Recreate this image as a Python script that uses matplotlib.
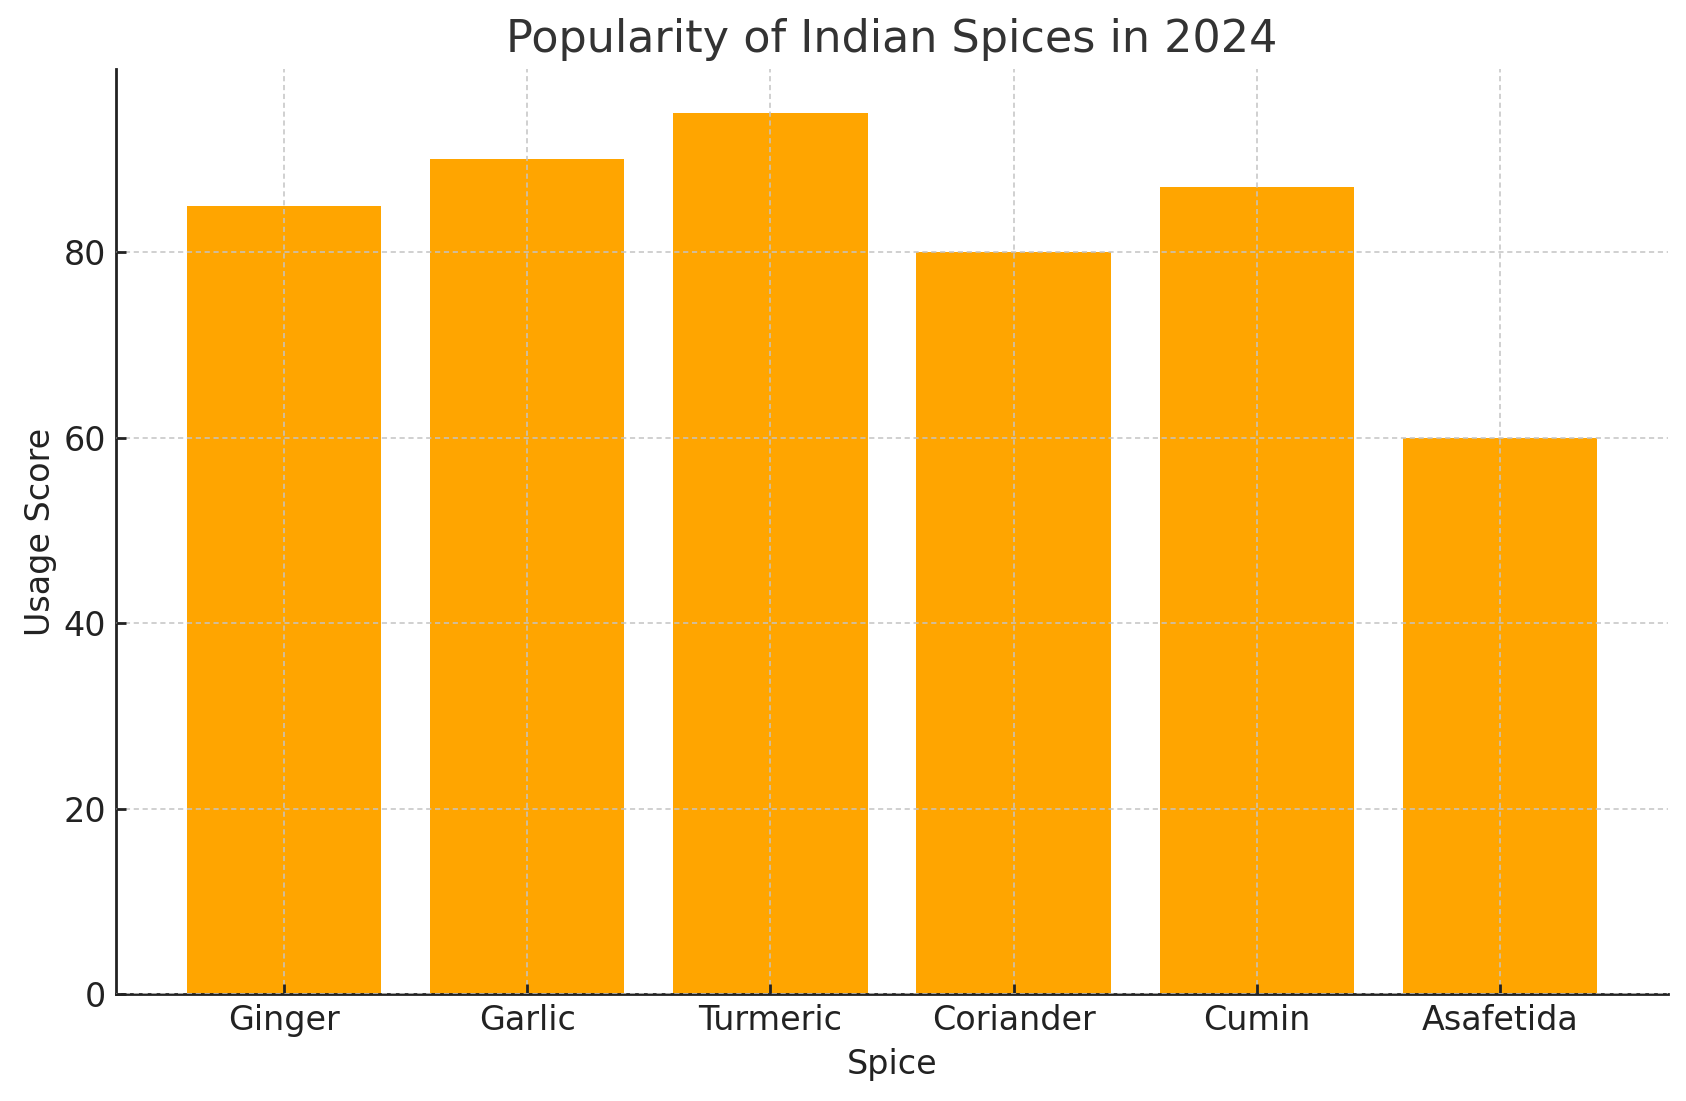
import matplotlib
matplotlib.use("Agg")
import matplotlib.pyplot as plt

spices = ["Ginger", "Garlic", "Turmeric", "Coriander", "Cumin", "Asafetida"]
usage_scores = [85, 90, 95, 80, 87, 60]

fig = plt.figure(figsize=(1686/200, 1101/200), dpi=200)
ax = fig.add_axes([116/1686, 1-994/1101, (1668-116)/1686, (994-69)/1101])

ax.bar(spices, usage_scores, color="#FFA500", width=0.8, zorder=1)
ax.set_axisbelow(False)
ax.grid(True, linestyle=(0, (3.4, 2.4)), color="#c4c4c4", linewidth=0.55, zorder=2)

ax.set_title("Popularity of Indian Spices in 2024", fontsize=16, color="#333333")
ax.set_xlabel("Spice", fontsize=12, color="#222222")
ax.set_ylabel("Usage Score", fontsize=12, color="#222222", labelpad=2.5)
ax.tick_params(axis="both", labelsize=12, colors="#222222", direction="in",
               length=3.5, width=1.0)
for s in ["top", "right"]:
    ax.spines[s].set_visible(False)
for s in ["left", "bottom"]:
    ax.spines[s].set_color("#222222")
    ax.spines[s].set_linewidth(1.0)

fig.savefig("out.png", dpi=200)
